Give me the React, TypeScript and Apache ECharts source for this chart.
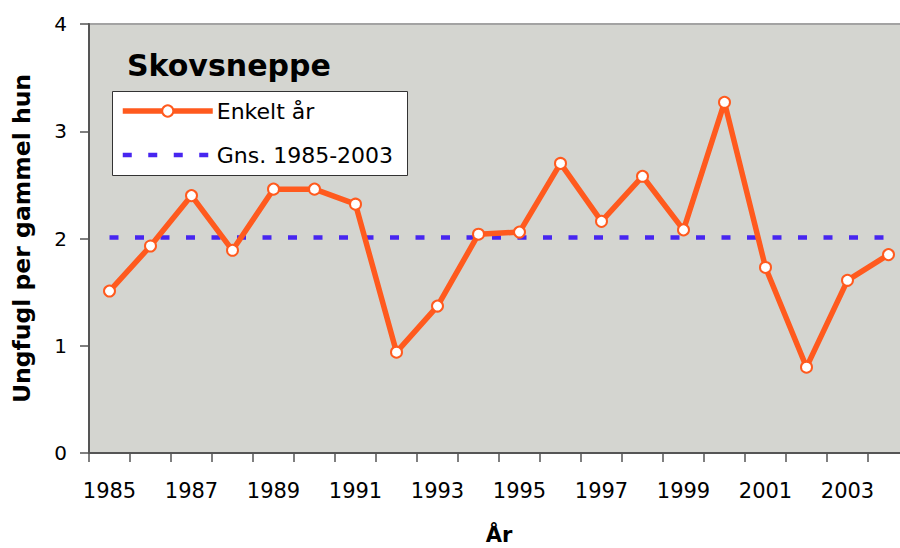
import React, { useEffect, useRef } from "react";
import * as echarts from "echarts";

const years = [
  "1985", "1986", "1987", "1988", "1989", "1990", "1991", "1992", "1993", "1994",
  "1995", "1996", "1997", "1998", "1999", "2000", "2001", "2002", "2003", "2004",
];
const enkeltAar = [
  1.51, 1.93, 2.4, 1.89, 2.46, 2.46, 2.32, 0.94, 1.37, 2.04,
  2.06, 2.7, 2.16, 2.58, 2.08, 3.27, 1.73, 0.8, 1.61, 1.85,
];
const gnsValue = 2.01;
const gns = years.map(() => gnsValue);

const FONT = "DejaVu Sans";
const ORANGE = "#ff5a1e";
const BLUE = "#4726f0";

export default function App() {
  const ref = useRef<HTMLDivElement>(null);
  useEffect(() => {
    if (!ref.current) return;
    const chart = echarts.init(ref.current, null, { renderer: "svg" });
    chart.setOption({
      animation: false,
      backgroundColor: "#ffffff",
      textStyle: { fontFamily: FONT },
      title: {
        text: "Skovsneppe",
        left: 127,
        top: 50,
        padding: 0,
        textStyle: { fontFamily: FONT, fontSize: 30, fontWeight: "bold", color: "#000" },
      },
      graphic: [
        {
          type: "rect",
          z: 5,
          shape: { x: 112.5, y: 91.5, width: 295, height: 84 },
          style: { fill: "#ffffff", stroke: "#333333", lineWidth: 1 },
        },
      ],
      legend: {
        orient: "vertical",
        left: 112,
        top: 91,
        padding: [7, 8, 8, 8],
        z: 10,
        itemWidth: 90,
        itemHeight: 14,
        itemGap: 18,
        textStyle: { fontFamily: FONT, fontSize: 22, color: "#000", lineHeight: 26, padding: [0, 0, 0, -1] },
        data: [
          { name: "Enkelt år", lineStyle: { width: 5.5, color: ORANGE } },
          {
            name: "Gns. 1985-2003",
            itemStyle: { opacity: 0 },
            lineStyle: { width: 4.5, color: BLUE, type: [9, 16.5] },
          },
        ],
      },
      grid: {
        left: 89,
        top: 24,
        right: 0,
        bottom: 95,
        outerBoundsMode: "none",
        containLabel: false,
        show: true,
        backgroundColor: "#d4d5d0",
        borderColor: "#a3a3a3",
        borderWidth: 2,
      },
      xAxis: {
        type: "category",
        data: years,
        boundaryGap: true,
        name: "År",
        nameLocation: "middle",
        nameGap: 71,
        nameTextStyle: { fontFamily: FONT, fontSize: 21, fontWeight: "bold", color: "#000" },
        axisLine: { show: true, lineStyle: { color: "#555", width: 2 } },
        axisTick: { show: true, length: 9, interval: 0, lineStyle: { color: "#555", width: 1.5 } },
        axisLabel: { interval: 1, margin: 27, fontFamily: FONT, fontSize: 21, color: "#000" },
        splitLine: { show: false },
      },
      yAxis: {
        type: "value",
        min: 0,
        max: 4,
        interval: 1,
        name: "Ungfugl per gammel hun",
        nameLocation: "middle",
        nameGap: 55,
        nameRotate: 90,
        nameTextStyle: {
          fontFamily: FONT,
          fontSize: 23.5,
          fontWeight: "bold",
          color: "#000",
        },
        axisLine: { show: true, lineStyle: { color: "#555", width: 2 } },
        axisTick: { show: true, length: 9, lineStyle: { color: "#555", width: 1.5 } },
        axisLabel: { margin: 22, fontFamily: FONT, fontSize: 20, color: "#000" },
        splitLine: { show: false },
      },
      series: [
        {
          name: "Enkelt år",
          type: "line",
          data: enkeltAar,
          z: 3,
          symbol: "circle",
          symbolSize: 11,
          lineStyle: { color: ORANGE, width: 5.5 },
          itemStyle: { color: "#ffffff", borderColor: ORANGE, borderWidth: 2 },
        },
        {
          name: "Gns. 1985-2003",
          type: "line",
          data: gns,
          z: 2,
          symbol: "none",
          lineStyle: { color: BLUE, width: 4.5, type: [9, 16.5] },
          itemStyle: { color: BLUE },
        },
      ],
    });
    return () => chart.dispose();
  }, []);
  return (
    <div style={{ position: "absolute", left: 0, top: 0, width: 900, height: 548, overflow: "hidden" }}>
      <div ref={ref} style={{ width: 909, height: 548 }} />
    </div>
  );
}
